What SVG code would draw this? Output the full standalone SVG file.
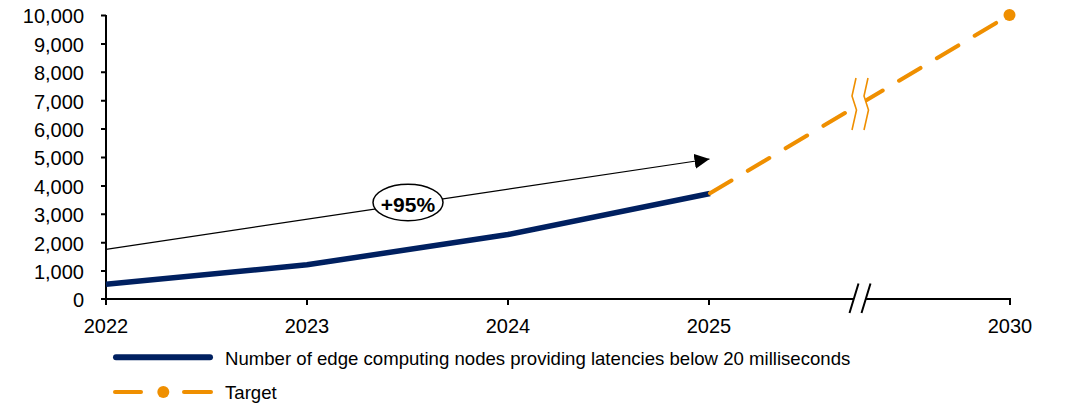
<svg xmlns="http://www.w3.org/2000/svg" width="1066" height="405" viewBox="0 0 1066 405">
  <style>
    .lbl { font-family: "Liberation Sans", Arial, sans-serif; font-size: 20px; fill: #000; }
    .leg { font-family: "Liberation Sans", Arial, sans-serif; font-size: 18.6px; fill: #000; }
    .axis { stroke: #000; stroke-width: 2; fill: none; }
    .actual { stroke: #002060; stroke-width: 5.5; fill: none; stroke-linejoin: round; }
    .target { stroke: #EF8F00; stroke-width: 4; fill: none; stroke-linecap: round; stroke-dasharray: 25 19; }
    .brk { stroke: #EF8F00; stroke-width: 1.6; fill: none; }
  </style>
  <defs>
    <marker id="arrowhead" markerWidth="15" markerHeight="15" refX="10" refY="5" orient="auto" markerUnits="userSpaceOnUse" viewBox="0 0 10 10">
      <path d="M0,0 L10,5 L0,10 Z" fill="#000"/>
    </marker>
  </defs>
  <rect width="1066" height="405" fill="#fff"/>

  <!-- axes -->
  <g id="axes">
    <path class="axis" d="M106,15 V305 M106,299 H853 M866,299 H1010 V305"/>
    <path class="axis" d="M101,15.5 H106 M101,43.9 H106 M101,72.3 H106 M101,100.7 H106 M101,129.1 H106 M101,157.5 H106 M101,185.9 H106 M101,214.3 H106 M101,242.7 H106 M101,271.1 H106 M101,299 H106"/>
    <path class="axis" d="M307,299 V305 M508,299 V305 M709,299 V305"/>
    <!-- axis break -->
    <path class="axis" d="M849.5,313 L858.5,283.5 M861.5,313 L870.5,283.5"/>
    <g class="lbl" text-anchor="end">
      <text x="84" y="23.3">10,000</text>
      <text x="84" y="51.7">9,000</text>
      <text x="84" y="80.1">8,000</text>
      <text x="84" y="108.5">7,000</text>
      <text x="84" y="136.9">6,000</text>
      <text x="84" y="165.3">5,000</text>
      <text x="84" y="193.7">4,000</text>
      <text x="84" y="222.1">3,000</text>
      <text x="84" y="250.5">2,000</text>
      <text x="84" y="278.9">1,000</text>
      <text x="84" y="306.7">0</text>
    </g>
    <g class="lbl" text-anchor="middle">
      <text x="106" y="333">2022</text>
      <text x="307" y="333">2023</text>
      <text x="508" y="333">2024</text>
      <text x="709" y="333">2025</text>
      <text x="1010" y="333">2030</text>
    </g>
  </g>

  <!-- series -->
  <g id="connectors">
    <path id="growth-arrow" d="M106,249.3 L709.5,159" stroke="#000" stroke-width="1.2" fill="none" marker-end="url(#arrowhead)"/>
    <polyline id="series-actual" class="actual" points="106,284.3 307,264.8 508,234.5 710,193.5"/>
    <g id="series-target">
      <path class="target" d="M710,193.3 L1009.5,15"/>
      <!-- break in the target line -->
      <polygon points="856,78 852,96 856.5,110 852,130 864,130 868.5,110 864,96 868,78" fill="#fff"/>
      <polyline class="brk" points="856,78 852,96 856.5,110 852,130"/>
      <polyline class="brk" points="868,78 864,96 868.5,110 864,130"/>
      <circle cx="1009.5" cy="15" r="6" fill="#EF8F00"/>
    </g>
  </g>

  <g id="growth-label">
    <ellipse cx="408" cy="202.5" rx="35" ry="18.3" fill="#fff" stroke="#000" stroke-width="1.5"/>
    <text x="408" y="211.5" text-anchor="middle" font-family="'Liberation Sans', Arial, sans-serif" font-size="21" font-weight="bold">+95%</text>
  </g>

  <!-- legend -->
  <g id="legend">
    <line x1="116" y1="357.3" x2="210" y2="357.3" stroke="#002060" stroke-width="6" stroke-linecap="round"/>
    <text class="leg" x="225" y="365">Number of edge computing nodes providing latencies below 20 milliseconds</text>
    <line x1="115" y1="392" x2="141" y2="392" stroke="#EF8F00" stroke-width="4" stroke-linecap="round"/>
    <circle cx="163.3" cy="392" r="6" fill="#EF8F00"/>
    <line x1="184" y1="392" x2="211" y2="392" stroke="#EF8F00" stroke-width="4" stroke-linecap="round"/>
    <text class="leg" x="225" y="399.3">Target</text>
  </g>
</svg>
